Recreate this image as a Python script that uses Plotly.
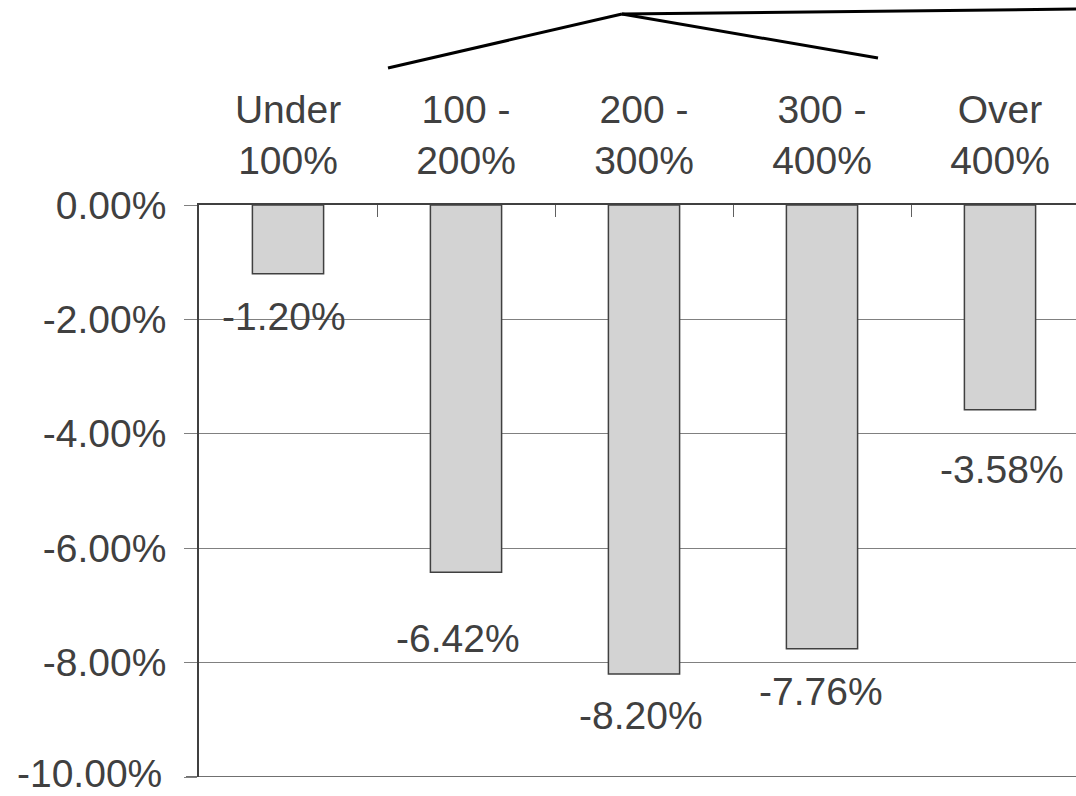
import plotly.graph_objects as go

categories = ["Under<br>100%", "100 -<br>200%", "200 -<br>300%", "300 -<br>400%", "Over<br>400%"]
values = [-1.20, -6.42, -8.20, -7.76, -3.58]
y_ticks = [0, -2, -4, -6, -8, -10]

# styling: label offsets (px) below bar ends, horizontal nudges
label_yshift = [-43, -66, -41, -43, -60]
label_xshift = [-4, -8, -3, -1, 2]

W, H = 1076, 796
L, R, T, B = 199, 0, 205, 19
pw, ph = W - L - R, H - T - B
FONT = "Liberation Sans, Arial, sans-serif"
TXT = "#404040"

fig = go.Figure()
fig.add_trace(go.Bar(
    x=categories, y=values, width=0.4,
    marker=dict(color="#d3d3d3", line=dict(color="#404040", width=1.5)),
    showlegend=False, hoverinfo="skip",
))

for c, v, dy, dx in zip(categories, values, label_yshift, label_xshift):
    fig.add_annotation(x=c, y=v, text=f"{v:.2f}%", showarrow=False,
                       yshift=dy, xshift=dx, yanchor="middle",
                       font=dict(family=FONT, size=39, color=TXT))

def px(x):
    return (x - L) / pw

def py(y):
    return (H - B - y) / ph

# decorative callout lines at top
segs = [((388, 68), (622, 14)), ((622, 14), (878, 58)), ((622, 14), (1076, 9))]
for (x0, y0), (x1, y1) in segs:
    fig.add_shape(type="line", xref="paper", yref="paper",
                  x0=px(x0), y0=py(y0), x1=px(x1), y1=py(y1),
                  line=dict(color="black", width=3))

# bottom border line
fig.add_shape(type="line", xref="paper", yref="y", x0=px(186), x1=1, y0=-10, y1=-10,
              line=dict(color="#404040", width=1.5))

# lowest tick label drawn as annotation, nudged up to stay inside the page
tick_text = [f"{v:.2f}%" for v in y_ticks]
fig.add_annotation(xref="paper", yref="y", x=px(164), y=y_ticks[-1], text=tick_text[-1],
                   showarrow=False, xanchor="right", yanchor="middle", yshift=4,
                   font=dict(family=FONT, size=39, color=TXT))

fig.update_layout(
    width=W, height=H,
    margin=dict(l=L, r=R, t=T, b=B, pad=0),
    plot_bgcolor="white", paper_bgcolor="white",
    font=dict(family=FONT, size=39, color=TXT),
    bargap=0.6,
)
fig.update_xaxes(
    side="top", range=[-0.5, 4.5 - 13 / 178],
    showline=True, linecolor="#404040", linewidth=1.5,
    ticks="inside", tickson="boundaries", ticklen=12, tickcolor="#606060", tickwidth=1,
    showgrid=False, tickfont=dict(family=FONT, size=39, color=TXT),
    ticklabelstandoff=14,
)
fig.update_yaxes(
    range=[-10, 0], tickvals=y_ticks, ticktext=tick_text[:-1] + [""],
    showline=True, linecolor="#404040", linewidth=1.5,
    ticks="outside", ticklen=13, tickcolor="#808080", tickwidth=1,
    showgrid=True, gridcolor="#808080", gridwidth=1, zeroline=False,
    tickfont=dict(family=FONT, size=39, color=TXT),
    ticklabelstandoff=10,
)

fig.write_html("out.html")
